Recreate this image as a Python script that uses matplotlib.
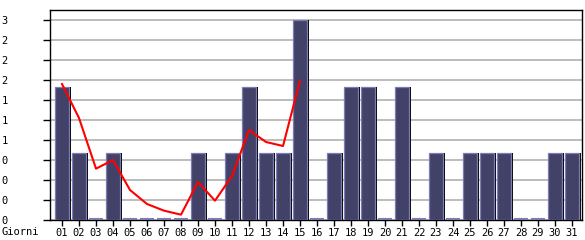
import matplotlib
matplotlib.use("Agg")
import matplotlib.pyplot as plt
import numpy as np

# daily counts
days = ["%02d" % d for d in range(1, 32)]
visits = [2, 1, 0, 1, 0, 0, 0, 0, 1, 0, 1, 2, 1, 1, 3,
          0, 1, 2, 2, 0, 2, 0, 1, 0, 1, 1, 1, 0, 0, 1, 1]
# trend line (only first half of month)
trend = [2.04, 1.53, 0.77, 0.90, 0.45, 0.24, 0.14, 0.08, 0.57, 0.29,
         0.66, 1.35, 1.17, 1.11, 2.09]
yticks = [0, 0.3, 0.6, 0.9, 1.2, 1.5, 1.8, 2.1, 2.4, 2.7, 3.0]
ylabels = [str(int(v)) for v in yticks]

W, H = 585, 240
fig = plt.figure(figsize=(W / 100, H / 100), dpi=100)
ax = fig.add_axes([50 / W, 20 / H, 532 / W, 210 / H])

x = np.arange(1, 32)
v = np.array(visits)
slot = 17.0  # px per day
bw = 14 / slot
off = 2 / slot

ax.bar(x + off, v, width=bw, color="black", zorder=3)
ax.bar(x, v, width=bw, color="#424268", edgecolor="#7c7cb4",
       linewidth=0.9, zorder=4)
# empty days: just a flat light strip on the baseline
zero = x[v == 0]
ax.hlines(np.zeros(len(zero)) + 0.01, zero - bw / 2, zero + bw / 2,
          color="#7c7cb4", linewidth=1.5, zorder=4)
ax.plot(x[:len(trend)], trend, color="#ff0000", linewidth=1.5, zorder=5)

ax.set_xlim(1 - 12 / slot, 31 + 10 / slot)
ax.set_ylim(0, 3.15)
ax.set_xticks(x)
ax.set_xticklabels(days)
ax.set_yticks(yticks)
ax.set_yticklabels(ylabels, ha="left")
ax.yaxis.grid(True, color="#b0b0b0", linewidth=1.2, zorder=0)
ax.set_axisbelow(True)

for s in ax.spines.values():
    s.set_color("black")
    s.set_linewidth(1.0)

ax.tick_params(axis="x", length=4, width=1, pad=2, labelsize=7.5)
ax.tick_params(axis="y", length=5, width=1, pad=30, labelsize=7.5)
for lab in ax.get_xticklabels() + ax.get_yticklabels():
    lab.set_family("DejaVu Sans Mono")

fig.text(2 / W, 1 - 232 / H, "Giorni", family="DejaVu Sans Mono",
         fontsize=7.5, va="center", ha="left")

fig.savefig("out.png", dpi=100, facecolor="white")
